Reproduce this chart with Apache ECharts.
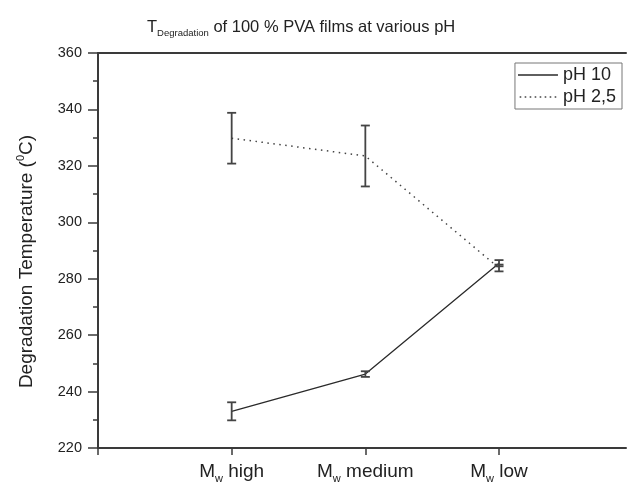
<!DOCTYPE html>
<html>
<head>
<meta charset="utf-8">
<script src="https://cdn.jsdelivr.net/npm/echarts@6/dist/echarts.min.js"></script>
<style>
  html, body { margin: 0; padding: 0; background: #fff; }
  #chart { width: 627px; height: 487px; }
</style>
</head>
<body>
<div id="chart"></div>
<script>
// Molecular-weight grades of the PVA films
const categories = ['high', 'medium', 'low'];
const categoryPos = [1, 2, 3];

// Degradation temperature (°C) with error (±)
const ph10 = [233.0, 246.2, 285.5];
const ph10Err = [3.2, 1.0, 1.1];
const ph25 = [329.8, 323.5, 283.8];
const ph25Err = [9.0, 10.8, 1.2];

const yTicks = { min: 220, max: 360, step: 20 };

const FONT = 'Liberation Sans, Arial, sans-serif';
const INK = '#222';
const AXIS = '#3a3a3a';

// legend keys: a plain stroke and a row of dots
const SOLID_KEY = 'path://M0,0H40V1.5H0Z';
let dots = '';
for (let x = 0; x < 40; x += 5) dots += 'M' + x + ',0h1.6v1.5h-1.6Z';
const DOTTED_KEY = 'path://' + dots;

function pairs(values) {
  return values.map((v, i) => [categoryPos[i], v]);
}
function errRows(values, errs) {
  return values.map((v, i) => [categoryPos[i], v - errs[i], v + errs[i]]);
}

// Vertical error bar with caps, placed through the axes
function errorBar(capHalf) {
  return function (params, api) {
    const x = api.value(0);
    const lo = api.coord([x, api.value(1)]);
    const hi = api.coord([x, api.value(2)]);
    const style = { stroke: '#444', lineWidth: 1.8 };
    return {
      type: 'group',
      children: [
        { type: 'line', shape: { x1: lo[0], y1: lo[1], x2: hi[0], y2: hi[1] }, style },
        { type: 'line', shape: { x1: lo[0] - capHalf, y1: lo[1], x2: lo[0] + capHalf, y2: lo[1] }, style },
        { type: 'line', shape: { x1: hi[0] - capHalf, y1: hi[1], x2: hi[0] + capHalf, y2: hi[1] }, style }
      ]
    };
  };
}

const chart = echarts.init(document.getElementById('chart'), null, { renderer: 'canvas' });

chart.setOption({
  animation: false,
  backgroundColor: '#fff',
  title: {
    text: '{t|T}{sub|Degradation}{t| of 100 % PVA films at various pH}',
    left: 142,
    top: 11,
    textStyle: {
      fontWeight: 'normal',
      rich: {
        t: { fontFamily: FONT, fontSize: 16.5, fontWeight: 'normal', color: INK, lineHeight: 22 },
        sub: { fontFamily: FONT, fontSize: 9.5, fontWeight: 'normal', color: INK, lineHeight: 8, verticalAlign: 'bottom' }
      }
    }
  },
  legend: {
    right: 5,
    top: 63,
    orient: 'vertical',
    itemWidth: 40,
    itemHeight: 1.5,
    itemGap: 4,
    padding: [3, 6, 3, 3],
    borderColor: '#777',
    borderWidth: 1,
    borderRadius: 0,
    textStyle: { fontFamily: FONT, fontSize: 18, color: INK, padding: [0, 0, 0, 0] },
    data: [
      { name: 'pH 10', icon: SOLID_KEY },
      { name: 'pH 2,5', icon: DOTTED_KEY }
    ]
  },
  grid: { left: 98, top: 53, right: 1, bottom: 39 },
  xAxis: [
    {
      type: 'value',
      min: 0,
      max: 3.95,
      interval: 1,
      axisLine: { lineStyle: { color: AXIS, width: 2 } },
      axisTick: { show: true, inside: false, length: 7, lineStyle: { color: AXIS, width: 1.5 } },
      splitLine: { show: false },
      axisLabel: {
        margin: 12,
        showMaxLabel: false,
        formatter: function (v) {
          const i = categoryPos.indexOf(v);
          return i < 0 ? '' : '{m|M}{w|w}{m| ' + categories[i] + '}';
        },
        rich: {
          m: { fontFamily: FONT, fontSize: 19, color: INK, lineHeight: 24 },
          w: { fontFamily: FONT, fontSize: 11, color: INK, lineHeight: 8, verticalAlign: 'bottom' }
        }
      }
    },
    {
      type: 'value',
      position: 'top',
      min: 0,
      max: 3.95,
      axisLine: { show: true, onZero: false, lineStyle: { color: AXIS, width: 2 } },
      axisTick: { show: false },
      axisLabel: { show: false },
      splitLine: { show: false }
    }
  ],
  yAxis: {
    type: 'value',
    min: yTicks.min,
    max: yTicks.max,
    interval: yTicks.step,
    name: '{n|Degradation Temperature (}{s|0}{n|C)}',
    nameLocation: 'middle',
    nameGap: 59,
    nameTextStyle: {
      padding: [0, 22, 0, 0],
      rich: {
        n: { fontFamily: FONT, fontSize: 19, color: INK, lineHeight: 24 },
        s: { fontFamily: FONT, fontSize: 11, color: INK, lineHeight: 10, verticalAlign: 'top' }
      }
    },
    axisLine: { show: true, lineStyle: { color: AXIS, width: 2 } },
    axisTick: { show: true, inside: false, length: 10, lineStyle: { color: AXIS, width: 1.5 } },
    minorTick: { show: true, splitNumber: 2, length: 5, lineStyle: { color: AXIS, width: 1.5 } },
    splitLine: { show: false },
    axisLabel: { margin: 16, fontFamily: FONT, fontSize: 14.5, color: INK }
  },
  series: [
    {
      name: 'pH 10',
      type: 'line',
      data: pairs(ph10),
      symbol: 'none',
      lineStyle: { color: '#2a2a2a', width: 1.3, type: 'solid' },
      itemStyle: { color: '#2a2a2a' },
      z: 3
    },
    {
      name: 'pH 2,5',
      type: 'line',
      data: pairs(ph25),
      symbol: 'none',
      lineStyle: { color: '#444', width: 1.5, type: [1.5, 4.5] },
      itemStyle: { color: '#444' },
      z: 3
    },
    {
      type: 'custom',
      renderItem: errorBar(4.5),
      data: errRows(ph10, ph10Err),
      encode: { x: 0, y: [1, 2] },
      z: 4
    },
    {
      type: 'custom',
      renderItem: errorBar(4.5),
      data: errRows(ph25, ph25Err),
      encode: { x: 0, y: [1, 2] },
      z: 4
    }
  ]
});
</script>
</body>
</html>
